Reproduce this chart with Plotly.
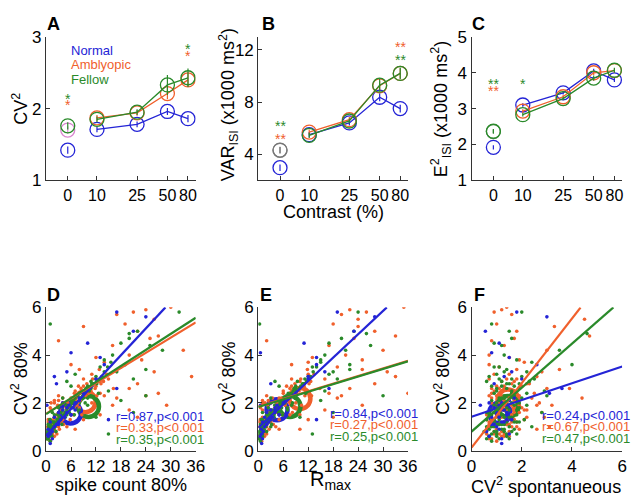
import math
import plotly.graph_objects as go

BLUE = "#2424d6"
ORANGE = "#f0602c"
GREEN = "#2a8a2a"
AXC = "#333333"
FONT = "Liberation Sans, Arial, sans-serif"

# ---------------- top row data ----------------
contrast = [0, 10, 25, 50, 80]
contrast_labels = ["0", "10", "25", "50", "80"]

cv2_normal = [1.42, 1.71, 1.78, 1.96, 1.86]
cv2_amb = [1.70, 1.87, 1.94, 2.21, 2.40]
cv2_fel = [1.76, 1.85, 1.95, 2.33, 2.43]
cv2_err_normal = [0.05, 0.04, 0.04, 0.05, 0.05]
cv2_err_amb = [0.05, 0.04, 0.04, 0.08, 0.10]
cv2_err_fel = [0.05, 0.04, 0.04, 0.14, 0.13]

var_normal = [2.97, 5.50, 6.40, 8.37, 7.50]
var_amb = [4.30, 5.70, 6.65, 9.25, 10.20]
var_fel = [4.32, 5.45, 6.55, 9.30, 10.20]
var_err_normal = [0.25, 0.2, 0.2, 0.3, 0.3]
var_err_amb = [0.25, 0.2, 0.2, 0.35, 0.4]
var_err_fel = [0.25, 0.2, 0.2, 0.5, 0.45]

e2_normal = [1.92, 3.10, 3.44, 4.05, 3.80]
e2_amb = [2.36, 2.93, 3.33, 4.00, 4.06]
e2_fel = [2.37, 2.83, 3.28, 3.85, 4.07]
e2_err_normal = [0.06, 0.05, 0.05, 0.06, 0.06]
e2_err_amb = [0.06, 0.05, 0.05, 0.06, 0.06]
e2_err_fel = [0.06, 0.05, 0.05, 0.07, 0.07]

# significance stars: (panel, contrast, y, text, colour)
stars = [
    ("A", 0, 2.14, "*", GREEN), ("A", 0, 2.05, "*", ORANGE),
    ("A", 80, 2.83, "*", GREEN), ("A", 80, 2.73, "*", ORANGE),
    ("B", 0, 6.2, "**", GREEN), ("B", 0, 5.15, "**", ORANGE),
    ("B", 80, 12.2, "**", ORANGE), ("B", 80, 11.2, "**", GREEN),
    ("C", 0, 3.68, "**", GREEN), ("C", 0, 3.48, "**", ORANGE),
    ("C", 10, 3.68, "*", GREEN),
]

# ---------------- scatter data (per neuron: CV2 80%, spike count, Rmax, CV2 spont) ----------------
normal_cv2 = [5.8, 4.1, 4.5, 3.1, 2.8, 3.6, 3.3, 2.6, 1.3, 2.0, 1.6, 1.2, 0.9, 0.3, 1.9, 5.6, 3.9, 2.2, 1.5, 1.7, 1.1, 2.4, 3.0, 1.8, 1.4, 0.8, 5.0,
              1.0, 1.2, 1.4, 1.6, 1.8, 2.0, 0.7, 1.1, 1.3, 1.5, 1.7, 1.9, 2.1, 0.6, 0.5]
normal_sc = [17, 6, 10, 2, 2.5, 14, 5, 17, 15, 4, 3, 1, 0.5, 1, 0.2, 24, 13, 8, 6, 7, 3, 9, 12, 5, 2, 1.5, 21,
             2.0, 3.0, 4.5, 5.0, 6.5, 7.0, 1.0, 2.5, 3.5, 6.0, 4.0, 5.5, 8.0, 0.5, 1.5]
normal_rmax = [19, 0.5, 11, 12, 3, 14, 16, 17, 14, 3, 2, 1, 0.7, 0.8, 0.5, 28, 14, 7, 5, 4, 2, 9, 12, 4, 1.5, 1.2, 23,
               1.5, 2.5, 3.5, 4.0, 5.0, 6.0, 0.8, 2.0, 3.0, 5.0, 3.0, 4.5, 6.5, 0.4, 1.0]
normal_spont = [1.8, 0.8, 1.1, 1.3, 0.9, 2.6, 1.6, 3.6, 1.4, 0.7, 1.0, 1.2, 1.1, 1.2, 0.35, 3.0, 1.5, 1.7, 1.4, 1.2, 0.9, 3.1, 2.0, 1.1, 0.8, 0.6, 0.55,
                1.0, 1.3, 1.1, 1.4, 0.9, 1.2, 1.5, 0.8, 1.6, 1.0, 1.3, 1.1, 1.5, 0.7, 1.2]

fellow_cv2 = [5.8, 5.3, 5.0, 4.7, 4.5, 4.2, 4.0, 3.8, 3.5, 3.3, 3.1, 3.0, 2.8, 2.6, 2.5, 2.4, 2.2, 2.1, 2.0, 1.9,
              1.8, 1.7, 1.6, 1.5, 1.4, 1.3, 1.2, 1.1, 1.0, 0.9, 0.8, 0.7, 0.6, 0.5, 0.4, 1.6, 0.7, 2.9, 3.2, 2.3,
              4.4, 3.6, 1.9, 2.7, 1.5, 1.2, 1.0, 0.8, 3.4, 4.9, 1.3, 0.9, 1.6, 2.2,
              0.5, 0.6, 0.7, 0.8, 0.9, 1.0, 1.1, 1.2, 1.3, 1.4, 1.5, 1.6, 1.7, 1.8, 1.9, 2.0, 2.1, 2.2, 2.3, 2.4,
              2.5, 2.6, 2.7, 2.8, 2.9, 3.0, 1.0, 1.2, 1.4, 1.6, 1.8, 2.0, 2.2, 2.4, 0.6, 0.8, 1.1, 1.3, 1.5, 1.7,
              0.5, 0.6, 0.7, 0.8, 0.9, 1.0, 1.1, 1.2, 1.3, 1.4, 1.5, 1.6, 1.7, 1.8, 1.9, 2.0, 2.1, 2.2, 2.3, 2.4,
              2.5, 2.6, 2.7, 2.8, 2.9, 3.0, 3.1, 3.3, 3.5, 3.7]
fellow_sc = [32, 1, 22, 20, 18, 28, 16, 14, 13, 17, 12, 21, 11, 10, 15, 9, 8, 18, 7, 5,
             6, 4, 3, 2, 12, 1, 2, 0.5, 1.5, 0.5, 1, 0.3, 0.8, 0.5, 1, 21, 15, 5, 7, 24,
             25, 19, 10, 6, 5, 3, 2, 0.3, 24, 20, 3, 1.2, 1.5, 4,
             0.4, 0.8, 1.2, 0.5, 1.8, 2.2, 1.0, 2.8, 3.4, 2.0, 4.2, 3.6, 5.0, 6.4, 4.8, 7.2, 6.0, 8.4, 7.6, 9.0,
             10.4, 9.6, 11.0, 12.2, 10.8, 13.0, 0.6, 1.6, 4.6, 5.6, 3.0, 9.4, 10.0, 12.6, 1.4, 2.4, 3.8, 0.9, 6.8, 8.0,
             0.2, 0.6, 0.3, 1.4, 0.7, 1.2, 2.0, 1.5, 2.6, 3.2, 2.8, 4.6, 4.0, 5.2, 5.8, 6.2, 6.6, 7.0, 8.8, 8.0,
             9.4, 10.8, 10.0, 11.4, 12.4, 12.0, 13.4, 14.0, 14.8, 15.6]
fellow_rmax = [24, 0.3, 23, 20, 17, 21, 16, 15, 13, 18, 12, 19, 11, 9, 16, 8, 7, 15, 6, 4,
               7, 3, 2, 2, 10, 1, 1.5, 0.5, 1, 0.7, 1.2, 0.5, 0.8, 0.3, 0.5, 18, 13, 4, 17, 30,
               27, 22, 8, 5, 3, 2.5, 3, 0.2, 22, 26, 2, 0.8, 1.0, 3,
               0.3, 0.6, 1.0, 0.4, 1.4, 1.8, 0.8, 2.2, 3.0, 1.6, 3.8, 3.0, 4.4, 5.6, 4.0, 6.4, 5.2, 7.4, 6.8, 8.0,
               9.2, 8.6, 10.2, 11.0, 9.4, 12.0, 0.5, 1.2, 3.8, 4.8, 2.4, 8.2, 8.8, 11.4, 1.0, 2.0, 3.2, 0.7, 5.8, 7.0,
               0.1, 0.5, 0.2, 1.1, 0.6, 1.0, 1.6, 1.2, 2.2, 2.6, 2.4, 3.8, 3.4, 4.4, 5.0, 5.4, 5.8, 6.2, 7.8, 7.2,
               8.4, 9.8, 9.0, 10.6, 11.6, 11.2, 12.6, 13.2, 14.0, 15.0]
fellow_spont = [2.0, 0.8, 1.5, 1.6, 0.9, 3.5, 1.3, 1.8, 1.1, 2.2, 0.7, 2.5, 1.4, 1.0, 2.9, 1.6, 1.2, 0.8, 1.9, 1.3,
                1.0, 1.5, 0.7, 1.2, 1.6, 0.9, 1.4, 1.1, 0.6, 1.3, 0.9, 1.0, 0.7, 1.5, 0.8, 2.8, 1.8, 0.6, 1.0, 3.0,
                1.2, 4.0, 2.2, 1.7, 0.8, 1.8, 2.4, 1.6, 1.4, 4.6, 1.1, 1.2, 0.9, 1.3,
                0.6, 1.0, 0.8, 1.3, 0.7, 1.5, 1.2, 0.9, 1.6, 1.1, 1.8, 1.4, 0.8, 1.2, 1.7, 1.0, 1.5, 2.0, 1.3, 0.9,
                1.6, 1.9, 1.2, 1.5, 2.3, 1.1, 0.9, 1.7, 1.3, 0.6, 1.9, 1.4, 1.1, 1.6, 1.4, 0.5, 1.0, 2.1, 0.7, 1.3,
                1.1, 0.7, 1.4, 1.0, 1.7, 0.8, 1.3, 1.9, 0.6, 1.5, 1.2, 1.0, 1.8, 1.4, 0.9, 1.6, 1.1, 1.3, 1.7, 2.2,
                1.0, 1.4, 0.8, 1.9, 1.2, 1.6, 2.0, 1.3, 0.9, 2.4]

amb_cv2 = [6.0, 5.9, 5.8, 5.7, 5.5, 5.3, 5.0, 4.8, 4.6, 4.4, 4.2, 4.0, 3.9, 3.7, 3.5, 3.4, 3.2, 3.1, 3.0, 2.9,
           2.8, 2.7, 2.6, 2.5, 2.4, 2.3, 2.2, 2.1, 2.0, 2.0, 1.9, 1.8, 1.8, 1.7, 1.6, 1.5, 1.5, 1.4, 1.3, 1.3,
           1.2, 1.1, 1.0, 0.9, 0.8, 0.7, 0.6, 0.5, 0.4, 1.9, 2.6, 3.3, 4.7, 5.2, 2.4, 1.7, 3.6, 2.2, 1.4, 3.8,
           0.9, 2.3, 1.6, 1.1, 2.0, 1.2, 0.7,
           0.5, 0.6, 0.7, 0.8, 0.9, 1.0, 1.1, 1.2, 1.3, 1.4, 1.5, 1.6, 1.7, 1.8, 1.9, 2.0, 2.1, 2.2, 2.3, 2.4,
           2.5, 2.6, 2.7, 2.8, 2.9, 3.0, 3.2, 3.4, 0.9, 1.1, 1.3, 1.5, 1.7, 1.9, 2.1, 2.3, 1.0, 1.6, 2.0, 2.6,
           0.6, 0.8, 1.0, 1.2, 1.4, 1.6, 1.8, 2.0, 2.2, 2.4, 2.6, 2.8, 3.0, 1.1, 1.5, 1.9, 2.3, 2.7, 1.3, 0.7]
amb_sc = [30, 24, 21, 17, 26, 19, 22, 27, 3, 16, 33, 20, 12, 14, 18, 8, 11, 35, 15, 13,
          22, 9, 10, 7, 27, 24, 6, 2, 4, 11, 16, 1, 8, 5, 3, 13, 6, 2, 9, 4,
          0.5, 1.5, 3, 7, 1, 0.5, 2, 0.3, 1, 29, 20, 26, 25, 9, 13, 20, 6, 17, 22, 23,
          2, 3, 4.5, 2.5, 1.2, 3.5, 1.5,
          0.6, 0.3, 1.5, 2.2, 1.0, 0.4, 2.6, 3.6, 1.8, 4.4, 2.6, 5.4, 3.8, 6.0, 7.4, 5.2, 8.2, 4.0, 9.6, 6.8,
          10.8, 8.4, 12.0, 9.8, 13.8, 11.2, 14.6, 12.8, 3.2, 0.8, 5.8, 8.6, 1.2, 11.6, 3.0, 14.0, 5.0, 9.2, 2.0, 16.2,
          0.2, 0.8, 1.6, 2.4, 3.0, 3.4, 4.8, 7.6, 6.4, 10.2, 11.8, 13.2, 9.0, 4.2, 6.6, 2.8, 12.2, 7.8, 0.5, 2.6]
amb_rmax = [35, 22, 26, 20, 24, 18, 28, 33, 2, 17, 30, 21, 13, 12, 19, 25, 12, 33, 16, 10,
            28, 8, 11, 6, 36, 20, 5, 1, 3, 9, 12, 0.5, 7, 4, 2, 10, 5, 1, 12, 3,
            0.3, 1, 2, 10, 0.8, 0.5, 1.5, 0.3, 0.8, 25, 22, 31, 23, 24, 17, 16, 8, 19, 18, 25,
            5, 2, 3.5, 2, 1, 2.5, 1.2,
            0.5, 0.2, 1.2, 1.8, 0.8, 0.3, 2.0, 3.0, 1.4, 3.6, 2.0, 4.6, 3.0, 5.2, 6.4, 4.4, 7.2, 3.4, 8.6, 6.0,
            9.8, 7.6, 11.0, 8.8, 12.6, 10.2, 13.4, 11.8, 2.6, 0.6, 5.0, 7.6, 1.0, 10.4, 2.4, 12.8, 4.2, 8.2, 1.6, 14.8,
            0.1, 0.6, 1.2, 2.0, 2.4, 2.8, 4.0, 6.6, 5.6, 9.2, 10.8, 12.2, 8.0, 3.6, 5.8, 2.2, 11.2, 6.8, 0.4, 2.0]
amb_spont = [1.4, 1.2, 0.9, 1.6, 4.5, 1.0, 1.8, 4.7, 0.8, 1.3, 3.0, 0.7, 1.5, 2.1, 1.1, 3.5, 0.9, 2.6, 1.4, 1.7,
             2.3, 1.0, 3.0, 1.2, 0.8, 1.9, 1.5, 1.3, 2.7, 1.1, 1.6, 0.9, 2.0, 1.3, 1.7, 0.6, 1.0, 2.2, 1.4, 0.8,
             1.6, 1.1, 0.7, 1.9, 1.2, 0.9, 1.5, 0.7, 1.0, 3.2, 3.9, 2.8, 1.7, 3.3, 2.5, 2.1, 0.7, 4.4, 2.9, 1.9,
             0.6, 1.2, 0.9, 1.4, 1.0, 1.8, 1.3,
             0.8, 1.2, 0.6, 1.5, 1.0, 1.8, 0.7, 1.3, 2.1, 1.0, 1.6, 0.9, 1.4, 1.2, 1.9, 0.8, 1.5, 2.4, 1.1, 1.7,
             0.9, 1.3, 2.0, 1.6, 1.2, 0.7, 1.5, 1.8, 2.6, 1.4, 0.6, 1.1, 2.2, 1.3, 1.7, 1.0, 3.1, 2.8, 1.2, 0.8,
             1.3, 0.9, 1.6, 0.7, 1.2, 1.9, 1.0, 1.4, 0.8, 1.6, 1.1, 2.2, 1.8, 1.5, 1.0, 2.6, 0.7, 1.3, 1.7, 1.1]

# means (big rings): [x_D, y_D, x_E, y_E, x_F, y_F]
mean_normal = [5.9, 1.58, 4.5, 1.71, 1.12, 1.58]
mean_amb = [9.4, 2.05, 10.0, 2.18, 1.45, 2.12]
mean_fel = [10.2, 1.85, 7.6, 1.85, 1.45, 1.85]

# regression fits: (slope, intercept, x_end) for D, E, F
fit_normal = [(0.187, 0.63, 28.7), (0.163, 0.96, 30.9), (0.35, 1.42, 6.0)]
fit_amb = [(0.106, 1.55, 36.0), (0.053, 1.85, 36.0), (1.35, 0.13, 4.34)]
fit_fel = [(0.112, 1.53, 36.0), (0.053, 1.83, 36.0), (0.92, 0.80, 5.65)]

r_text = {
    "D": ["r=0.87,p<0.001", "r=0.33,p<0.001", "r=0.35,p<0.001"],
    "E": ["r=0.84,p<0.001", "r=0.27,p<0.001", "r=0.25,p<0.001"],
    "F": ["r=0.24,p<0.001", "r=0.67,p<0.001", "r=0.47,p<0.001"],
}

# ---------------- layout helpers ----------------
W, H = 640, 504
def px(x): return x / W
def py(y): return 1 - y / H

def cpos(c):
    return math.log10(c) if c > 0 else 0.71

xpos = [cpos(c) for c in contrast]

fig = go.Figure()

panels = {
    "A": ("x", "y"), "B": ("x2", "y2"), "C": ("x3", "y3"),
    "D": ("x4", "y4"), "E": ("x5", "y5"), "F": ("x6", "y6"),
}

def top_series(panel, vals, errs, color, zero_color=None):
    xa, ya = panels[panel]
    fig.add_trace(go.Scatter(
        x=xpos[1:], y=vals[1:], xaxis=xa, yaxis=ya, mode="lines+markers",
        line=dict(color=color, width=1.3),
        marker=dict(symbol="circle-open", size=14, color=color, line=dict(width=1.3)),
        error_y=dict(type="data", array=errs[1:], width=0, thickness=1.2, color=color),
        showlegend=False, hoverinfo="skip"))
    zc = zero_color or color
    fig.add_trace(go.Scatter(
        x=xpos[:1], y=vals[:1], xaxis=xa, yaxis=ya, mode="markers",
        marker=dict(symbol="circle-open", size=14, color=zc, line=dict(width=1.3)),
        error_y=dict(type="data", array=errs[:1], width=0, thickness=1.2, color=zc),
        showlegend=False, hoverinfo="skip"))

top_series("A", cv2_normal, cv2_err_normal, BLUE)
top_series("A", cv2_amb, cv2_err_amb, ORANGE, zero_color="#d987d0")
top_series("A", cv2_fel, cv2_err_fel, GREEN)
top_series("B", var_normal, var_err_normal, BLUE)
top_series("B", var_amb, var_err_amb, ORANGE, zero_color="#888888")
top_series("B", var_fel, var_err_fel, GREEN, zero_color="#777777")
top_series("C", e2_normal, e2_err_normal, BLUE)
top_series("C", e2_amb, e2_err_amb, ORANGE, zero_color="#4a8a4a")
top_series("C", e2_fel, e2_err_fel, GREEN)

# scatter panels
groups = [
    ("amb", ORANGE, amb_cv2, [amb_sc, amb_rmax, amb_spont]),
    ("fel", GREEN, fellow_cv2, [fellow_sc, fellow_rmax, fellow_spont]),
    ("nor", BLUE, normal_cv2, [normal_sc, normal_rmax, normal_spont]),
]
for i, panel in enumerate(["D", "E", "F"]):
    xa, ya = panels[panel]
    for color, m in [(ORANGE, mean_amb), (GREEN, mean_fel), (BLUE, mean_normal)]:
        fig.add_trace(go.Scatter(
            x=[m[2 * i]], y=[m[2 * i + 1]], xaxis=xa, yaxis=ya, mode="markers",
            marker=dict(symbol="circle-open", size=21, color=color, line=dict(width=4.5)),
            showlegend=False, hoverinfo="skip"))
    for name, color, ys, xs in groups:
        fig.add_trace(go.Scatter(
            x=xs[i], y=ys, xaxis=xa, yaxis=ya, mode="markers",
            marker=dict(size=3.6, color=color), showlegend=False, hoverinfo="skip"))
    for color, fits in [(BLUE, fit_normal), (ORANGE, fit_amb), (GREEN, fit_fel)]:
        s, b, xe = fits[i]
        fig.add_trace(go.Scatter(
            x=[0, xe], y=[b, b + s * xe], xaxis=xa, yaxis=ya, mode="lines",
            line=dict(color=color, width=2.2), showlegend=False, hoverinfo="skip"))

# ---------------- axes ----------------
xdom = {"A": [42, 195], "B": [259, 412], "C": [477, 631]}
xdom["D"], xdom["E"], xdom["F"] = xdom["A"], xdom["B"], xdom["C"]
ydom_top = [py(178), py(29)]
ydom_bot = [py(459), py(310)]

def axis_common():
    return dict(showline=True, linecolor=AXC, linewidth=1.2, ticks="inside", ticklen=4,
                tickcolor=AXC, showgrid=False, zeroline=False,
                tickfont=dict(family=FONT, size=17, color="black"))

layout_axes = {}
names = ["A", "B", "C", "D", "E", "F"]
yranges = {"A": [1, 3], "B": [2, 13], "C": [1, 5], "D": [0, 6], "E": [0, 6], "F": [0, 6]}
yticks = {"A": [1, 2, 3], "B": [4, 8, 12], "C": [1, 2, 3, 4, 5],
          "D": [0, 2, 4, 6], "E": [0, 2, 4, 6], "F": [0, 2, 4, 6]}
for k, n in enumerate(names):
    xs = "xaxis" if k == 0 else f"xaxis{k+1}"
    ys = "yaxis" if k == 0 else f"yaxis{k+1}"
    xa_id = "x" if k == 0 else f"x{k+1}"
    ya_id = "y" if k == 0 else f"y{k+1}"
    xa = axis_common()
    ya = axis_common()
    xa.update(domain=[px(xdom[n][0]), px(xdom[n][1])], anchor=ya_id, tickangle=0)
    ya.update(domain=ydom_top if k < 3 else ydom_bot, anchor=xa_id,
              range=yranges[n], tickvals=yticks[n])
    if k < 3:
        xa.update(range=[0.495, 1.98], tickvals=xpos, ticktext=contrast_labels,
                  tickfont=dict(family=FONT, size=16, color="black"))
    elif n in ("D", "E"):
        xa.update(range=[0, 36], tickvals=[0, 6, 12, 18, 24, 30, 36])
    else:
        xa.update(range=[0, 6], tickvals=[0, 2, 4, 6])
    layout_axes[xs] = xa
    layout_axes[ys] = ya

annotations = []
def ann(x, y, text, size=16, color="black", angle=0, xanchor="center", yanchor="middle"):
    annotations.append(dict(x=px(x), y=py(y), xref="paper", yref="paper", text=text,
                            showarrow=False, textangle=angle, xanchor=xanchor, yanchor=yanchor,
                            font=dict(family=FONT, size=size, color=color)))

# panel letters
for n, (x, y) in {"A": (50, 16), "B": (269, 16), "C": (484, 16),
                  "D": (50, 297), "E": (267, 297), "F": (485, 297)}.items():
    ann(x, y, f"<b>{n}</b>", size=18)

# axis titles
ann(15, 104, "CV<sup>2</sup>", size=18, angle=-90)
ann(228, 100, "VAR<sub>ISI</sub> (x1000 ms<sup>2</sup>)", size=18, angle=-90)
ann(445, 104, "E<sup>2</sup><sub>ISI</sub> (x1000 ms<sup>2</sup>)", size=18, angle=-90)
ann(336, 211, "Contrast (%)", size=18)
for x in (15, 228, 447):
    ann(x, 384, "CV<sup>2</sup> 80%", size=18, angle=-90)
ann(119, 495, "spike count 80%", size=18)
ann(333, 490, "R<sub>max</sub>", size=20)
ann(553, 495, "CV<sup>2</sup> spontanueous", size=18)

# legend text in A
ann(65, 43, "Normal", size=13, color=BLUE, xanchor="left")
ann(65, 58, "Amblyopic", size=13, color=ORANGE, xanchor="left")
ann(65, 73, "Fellow", size=13, color=GREEN, xanchor="left")

# r values
rpos = {"D": (205, [423, 435, 447]), "E": (424, [420, 432, 444]), "F": (641, [422, 434, 446])}
for n, (xr, ys_) in rpos.items():
    for t, yv, col in zip(r_text[n], ys_, [BLUE, ORANGE, GREEN]):
        ann(xr, yv, t, size=13, color=col, xanchor="right")

# stars (data coordinates)
for panel, c, yv, t, col in stars:
    xa, ya = panels[panel]
    annotations.append(dict(x=cpos(c), y=yv, xref=xa, yref=ya, text=t, showarrow=False,
                            font=dict(family=FONT, size=14, color=col)))

fig.update_layout(
    width=W, height=H, margin=dict(l=0, r=0, t=0, b=0),
    paper_bgcolor="white", plot_bgcolor="white",
    annotations=annotations, showlegend=False, **layout_axes)

fig.write_html("out.html", config={"displayModeBar": False},
               post_script="document.body.style.margin='0';document.body.style.padding='0';")
